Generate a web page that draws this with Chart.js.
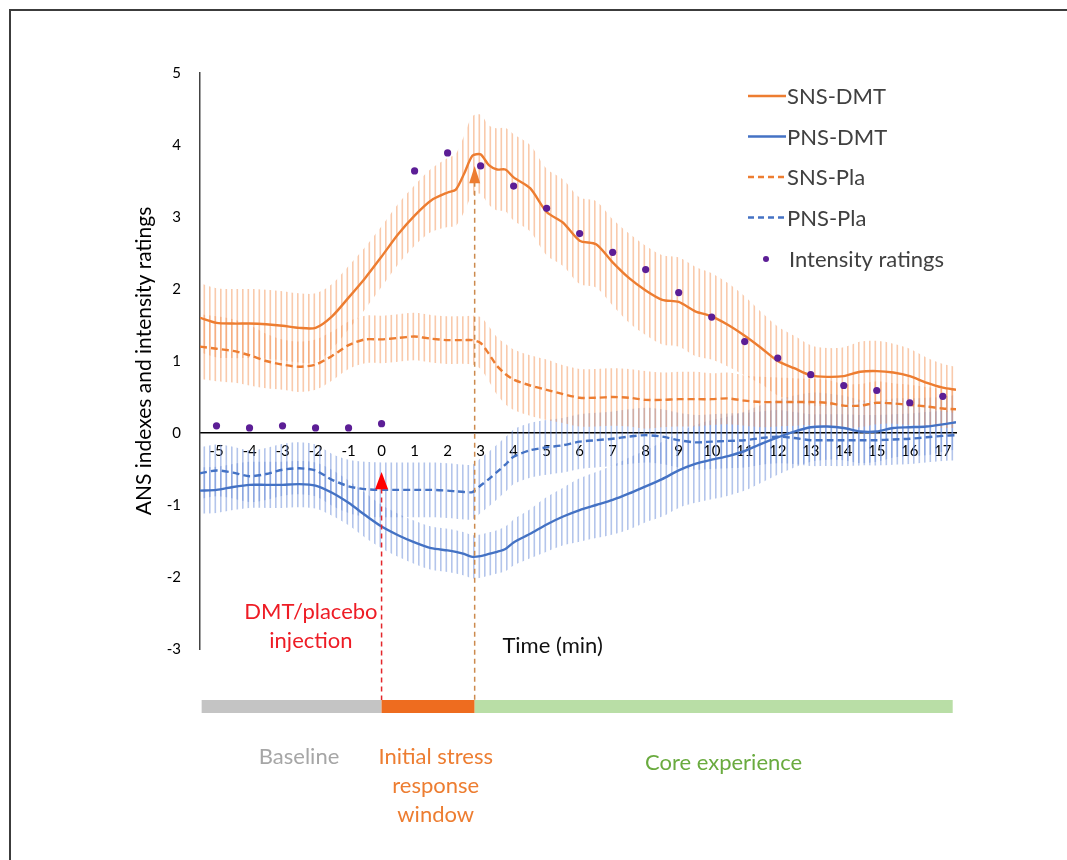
<!DOCTYPE html>
<html>
<head>
<meta charset="utf-8">
<title>ANS indexes and intensity ratings</title>
<script src="https://cdn.jsdelivr.net/npm/chart.js@4.4.1/dist/chart.umd.min.js"></script>
<style>
  html, body { margin: 0; padding: 0; background: #fff; }
  #wrap { width: 1067px; height: 860px; }
</style>
</head>
<body>
<div id="wrap"><canvas id="ansChart" width="1067" height="860"></canvas></div>
<script>
// time in minutes, relative to the injection
const minutes = [-5.5, -5, -4.5, -4, -3.5, -3, -2.5, -2, -1.5, -1, -0.5, 0, 0.5, 1, 1.5, 2,
  2.25, 2.5, 2.75, 3, 3.25, 3.5, 3.75, 4,
  4.5, 5, 5.5, 6, 6.5, 7, 7.5, 8, 8.5, 9, 9.5, 10, 10.5, 11, 11.5, 12, 12.5, 13, 13.5, 14, 14.5, 15, 15.5, 16, 16.5, 17, 17.4];

const snsDmt = [1.60, 1.53, 1.52, 1.52, 1.51, 1.49, 1.46, 1.46, 1.62, 1.88, 2.15, 2.45, 2.76, 3.02, 3.23, 3.34,
  3.38, 3.60, 3.85, 3.87, 3.72, 3.66, 3.66, 3.55,
  3.40, 3.07, 2.92, 2.67, 2.62, 2.37, 2.15, 1.98, 1.85, 1.82, 1.69, 1.62, 1.50, 1.35, 1.18, 1.00, 0.90, 0.80, 0.78, 0.79, 0.85, 0.86, 0.84, 0.79, 0.70, 0.63, 0.60];
const snsDmtErr = [0.48, 0.48, 0.48, 0.48, 0.48, 0.48, 0.48, 0.48, 0.45, 0.44, 0.43, 0.42, 0.42, 0.42, 0.44, 0.48,
  0.50, 0.53, 0.55, 0.55, 0.55, 0.57, 0.58, 0.60,
  0.60, 0.60, 0.60, 0.60, 0.60, 0.60, 0.62, 0.62, 0.62, 0.62, 0.62, 0.60, 0.58, 0.55, 0.50, 0.48, 0.45, 0.42, 0.40, 0.40, 0.42, 0.42, 0.40, 0.38, 0.35, 0.33, 0.32];

const pnsDmt = [-0.80, -0.79, -0.75, -0.72, -0.72, -0.72, -0.71, -0.73, -0.83, -0.97, -1.14, -1.30, -1.42, -1.52, -1.60, -1.63,
  -1.65, -1.68, -1.72, -1.71, -1.68, -1.65, -1.61, -1.52,
  -1.40, -1.27, -1.16, -1.07, -1.00, -0.93, -0.84, -0.74, -0.64, -0.52, -0.43, -0.37, -0.32, -0.25, -0.15, -0.06, 0.02, 0.08, 0.09, 0.07, 0.02, 0.02, 0.07, 0.08, 0.09, 0.12, 0.15];
const pnsDmtErr = [0.32, 0.32, 0.32, 0.32, 0.32, 0.32, 0.32, 0.32, 0.32, 0.31, 0.31, 0.30, 0.30, 0.30, 0.30, 0.30,
  0.30, 0.30, 0.30, 0.30, 0.30, 0.30, 0.31, 0.32,
  0.34, 0.38, 0.40, 0.44, 0.46, 0.48, 0.50, 0.50, 0.52, 0.52, 0.54, 0.55, 0.55, 0.55, 0.54, 0.52, 0.50, 0.48, 0.46, 0.45, 0.44, 0.42, 0.41, 0.40, 0.40, 0.38, 0.38];

const snsPla = [1.20, 1.17, 1.14, 1.08, 1.00, 0.95, 0.92, 0.95, 1.07, 1.22, 1.30, 1.30, 1.32, 1.34, 1.31, 1.29,
  1.29, 1.29, 1.29, 1.25, 1.10, 0.93, 0.82, 0.74,
  0.66, 0.60, 0.54, 0.49, 0.49, 0.50, 0.49, 0.46, 0.46, 0.47, 0.47, 0.47, 0.48, 0.45, 0.43, 0.43, 0.43, 0.43, 0.42, 0.38, 0.38, 0.42, 0.41, 0.39, 0.37, 0.34, 0.33];
const snsPlaErr = [0.45, 0.45, 0.44, 0.42, 0.38, 0.35, 0.35, 0.35, 0.34, 0.33, 0.33, 0.33, 0.33, 0.33, 0.33, 0.33,
  0.33, 0.33, 0.34, 0.36, 0.38, 0.40, 0.42, 0.42,
  0.42, 0.42, 0.40, 0.40, 0.40, 0.40, 0.40, 0.40, 0.38, 0.38, 0.38, 0.36, 0.36, 0.35, 0.35, 0.34, 0.33, 0.32, 0.32, 0.30, 0.30, 0.30, 0.28, 0.28, 0.27, 0.27, 0.26];

const pnsPla = [-0.56, -0.52, -0.55, -0.60, -0.57, -0.51, -0.49, -0.52, -0.65, -0.74, -0.78, -0.79, -0.79, -0.79, -0.79, -0.80,
  -0.81, -0.82, -0.82, -0.73, -0.64, -0.54, -0.44, -0.33,
  -0.24, -0.20, -0.17, -0.12, -0.10, -0.08, -0.05, -0.03, -0.05, -0.10, -0.13, -0.12, -0.11, -0.10, -0.07, -0.05, -0.07, -0.10, -0.10, -0.10, -0.10, -0.10, -0.09, -0.08, -0.06, -0.04, -0.03];
const pnsPlaErr = [0.36, 0.36, 0.36, 0.36, 0.36, 0.36, 0.36, 0.36, 0.36, 0.37, 0.38, 0.38, 0.38, 0.38, 0.38, 0.38,
  0.38, 0.38, 0.38, 0.38, 0.38, 0.38, 0.38, 0.38,
  0.38, 0.38, 0.38, 0.38, 0.38, 0.38, 0.38, 0.38, 0.38, 0.38, 0.38, 0.38, 0.38, 0.38, 0.37, 0.37, 0.36, 0.36, 0.36, 0.36, 0.35, 0.35, 0.35, 0.35, 0.35, 0.35, 0.35];

// intensity ratings, one per minute
const ratingMinutes = [-5, -4, -3, -2, -1, 0, 1, 2, 3, 4, 5, 6, 7, 8, 9, 10, 11, 12, 13, 14, 15, 16, 17];
const ratings = [0.10, 0.07, 0.10, 0.07, 0.07, 0.13, 3.64, 3.89, 3.71, 3.43, 3.12, 2.77, 2.51, 2.27, 1.95, 1.61, 1.27, 1.04, 0.81, 0.66, 0.59, 0.42, 0.51];

const xTicks = [-5, -4, -3, -2, -1, 0, 1, 2, 3, 4, 5, 6, 7, 8, 9, 10, 11, 12, 13, 14, 15, 16, 17];
const yTicks = [-3, -2, -1, 0, 1, 2, 3, 4, 5];

// events on the time axis
const injectionTime = 0;
const stressEnd = 2.82;
const phaseStart = -5.45;
const phaseEnd = 17.3;

const ORANGE = '#ED7D31';
const BLUE = '#4472C4';
const PURPLE = '#5C1E96';
const FONT = 'Lato, "Open Sans", sans-serif';

function pts(ys) {
  return ys.map((y, i) => ({ x: minutes[i], y: y }));
}
function shift(ys, errs, sign) {
  return ys.map((y, i) => ({ x: minutes[i], y: y + sign * errs[i] }));
}

function stripes(color) {
  const c = document.createElement('canvas');
  c.width = 11; c.height = 4;
  const g = c.getContext('2d');
  g.fillStyle = color;
  g.fillRect(0, 0, 1.6, 4);
  g.fillRect(5.5, 0, 1.6, 4);
  return g.createPattern(c, 'repeat');
}
const orangeHatch = stripes('rgba(244,150,90,0.5)');
const blueHatch = stripes('rgba(105,140,215,0.5)');

function band(mean, err, hatch) {
  return [
    { data: shift(mean, err, 1), fill: '+1', backgroundColor: hatch, borderWidth: 0, pointRadius: 0, tension: 0.3, order: 5 },
    { data: shift(mean, err, -1), fill: false, borderWidth: 0, pointRadius: 0, tension: 0.3, order: 5 }
  ];
}

const series = [
  { label: 'SNS-DMT', data: pts(snsDmt), borderColor: ORANGE, dash: [] },
  { label: 'PNS-DMT', data: pts(pnsDmt), borderColor: BLUE, dash: [] },
  { label: 'SNS-Pla', data: pts(snsPla), borderColor: ORANGE, dash: [7, 4] },
  { label: 'PNS-Pla', data: pts(pnsPla), borderColor: BLUE, dash: [7, 4] }
];

const datasets = []
  .concat(band(snsDmt, snsDmtErr, orangeHatch))
  .concat(band(snsPla, snsPlaErr, orangeHatch))
  .concat(band(pnsDmt, pnsDmtErr, blueHatch))
  .concat(band(pnsPla, pnsPlaErr, blueHatch));

series.forEach(s => {
  datasets.push({
    label: s.label, data: s.data, borderColor: s.borderColor, borderDash: s.dash,
    borderWidth: 2.4, pointRadius: 0, fill: false, tension: 0.25, order: 1
  });
});
datasets.push({
  label: 'Intensity ratings',
  data: ratingMinutes.map((m, i) => ({ x: m, y: ratings[i] })),
  showLine: false, pointRadius: 3.6, pointBackgroundColor: PURPLE, pointBorderWidth: 0, order: 0
});

function arrowUp(ctx, x, yTip, yBase, half, color) {
  ctx.fillStyle = color;
  ctx.beginPath();
  ctx.moveTo(x, yTip);
  ctx.lineTo(x + half, yBase);
  ctx.lineTo(x - half, yBase);
  ctx.closePath();
  ctx.fill();
}

const overlay = {
  id: 'overlay',
  afterDatasetsDraw(chart) {
    const ctx = chart.ctx;
    const xs = chart.scales.x, ys = chart.scales.y, area = chart.chartArea;
    const barTop = area.bottom + 51, barH = 13;
    ctx.save();

    // injection marker
    const xi = xs.getPixelForValue(injectionTime);
    ctx.setLineDash([5, 4]);
    ctx.lineWidth = 1.5;
    ctx.strokeStyle = '#E3262B';
    ctx.beginPath();
    ctx.moveTo(xi, ys.getPixelForValue(-0.77));
    ctx.lineTo(xi, barTop);
    ctx.stroke();
    // end of the stress window
    const xe = xs.getPixelForValue(stressEnd);
    ctx.strokeStyle = '#CC8A4E';
    ctx.beginPath();
    ctx.moveTo(xe, ys.getPixelForValue(3.49));
    ctx.lineTo(xe, barTop);
    ctx.stroke();
    ctx.setLineDash([]);
    arrowUp(ctx, xi, ys.getPixelForValue(-0.54), ys.getPixelForValue(-0.78), 6.5, '#FF0000');
    arrowUp(ctx, xe, ys.getPixelForValue(3.71), ys.getPixelForValue(3.47), 5.5, ORANGE);

    // phase bar
    const p0 = xs.getPixelForValue(phaseStart), p1 = xs.getPixelForValue(injectionTime);
    const p2 = xs.getPixelForValue(stressEnd), p3 = xs.getPixelForValue(phaseEnd);
    ctx.fillStyle = '#C4C4C4'; ctx.fillRect(p0, barTop, p1 - p0, barH);
    ctx.fillStyle = '#EE6C1F'; ctx.fillRect(p1, barTop, p2 - p1, barH);
    ctx.fillStyle = '#B9DEA6'; ctx.fillRect(p2, barTop, p3 - p2, barH);

    // texts
    ctx.textAlign = 'center';
    ctx.textBaseline = 'middle';
    ctx.font = '22px ' + FONT;
    ctx.fillStyle = '#EE1C25';
    const xInj = xs.getPixelForValue(-2.14);
    ctx.fillText('DMT/placebo', xInj, area.bottom - 37);
    ctx.fillText('injection', xInj, area.bottom - 8);
    ctx.fillStyle = '#111';
    ctx.fillText('Time (min)', xs.getPixelForValue(5.18), area.bottom - 3);

    ctx.fillStyle = '#A6A6A6';
    ctx.fillText('Baseline', xs.getPixelForValue(-2.5), area.bottom + 108);
    ctx.fillStyle = ORANGE;
    const xs1 = xs.getPixelForValue(1.64);
    ctx.fillText('Initial stress', xs1, area.bottom + 108);
    ctx.fillText('response', xs1, area.bottom + 137);
    ctx.fillText('window', xs1, area.bottom + 166);
    ctx.fillStyle = '#6AAB3F';
    ctx.fillText('Core experience', xs.getPixelForValue(10.36), area.bottom + 114);

    // legend
    ctx.textAlign = 'left';
    ctx.font = '22px ' + FONT;
    const lx = area.right - 208;
    let ly = area.top + 23;
    series.forEach(s => {
      ctx.strokeStyle = s.borderColor;
      ctx.lineWidth = 2.4;
      ctx.setLineDash(s.dash.length ? [6, 4] : []);
      ctx.beginPath();
      ctx.moveTo(lx, ly);
      ctx.lineTo(lx + 38, ly);
      ctx.stroke();
      ctx.setLineDash([]);
      ctx.fillStyle = '#404040';
      ctx.fillText(s.label, lx + 39, ly + 1);
      ly += 40.5;
    });
    ly += 1;
    ctx.fillStyle = PURPLE;
    ctx.beginPath();
    ctx.arc(lx + 18, ly, 3, 0, Math.PI * 2);
    ctx.fill();
    ctx.fillStyle = '#404040';
    ctx.fillText('Intensity ratings', lx + 41, ly + 1);

    // frame
    ctx.strokeStyle = '#3C3C3C';
    ctx.lineWidth = 2;
    ctx.beginPath();
    ctx.moveTo(chart.width, 10);
    ctx.lineTo(10, 10);
    ctx.lineTo(10, chart.height);
    ctx.stroke();
    ctx.restore();
  }
};

new Chart(document.getElementById('ansChart'), {
  type: 'line',
  data: { datasets: datasets },
  options: {
    responsive: false,
    animation: false,
    layout: { padding: { left: 128, right: 111, top: 73, bottom: 211 } },
    plugins: { legend: { display: false }, tooltip: { enabled: false } },
    scales: {
      x: {
        type: 'linear',
        position: { y: 0 },
        min: -5.5,
        max: 17.4,
        grid: { display: false, drawTicks: false },
        border: { display: true, color: '#000', width: 1.5 },
        afterBuildTicks: s => { s.ticks = xTicks.map(v => ({ value: v })); },
        ticks: { padding: 9, color: '#000', font: { family: FONT, size: 15 }, maxRotation: 0, autoSkip: false }
      },
      y: {
        min: -3,
        max: 5,
        grid: { display: false, drawTicks: false },
        border: { display: true, color: '#444', width: 1.5 },
        afterBuildTicks: s => { s.ticks = yTicks.map(v => ({ value: v })); },
        afterFit: s => { s.width = 72; },
        ticks: { padding: 19, color: '#000', font: { family: FONT, size: 15 } },
        title: { display: true, text: 'ANS indexes and intensity ratings', color: '#000', font: { family: FONT, size: 21 }, padding: 4 }
      }
    }
  },
  plugins: [overlay]
});
</script>
</body>
</html>
